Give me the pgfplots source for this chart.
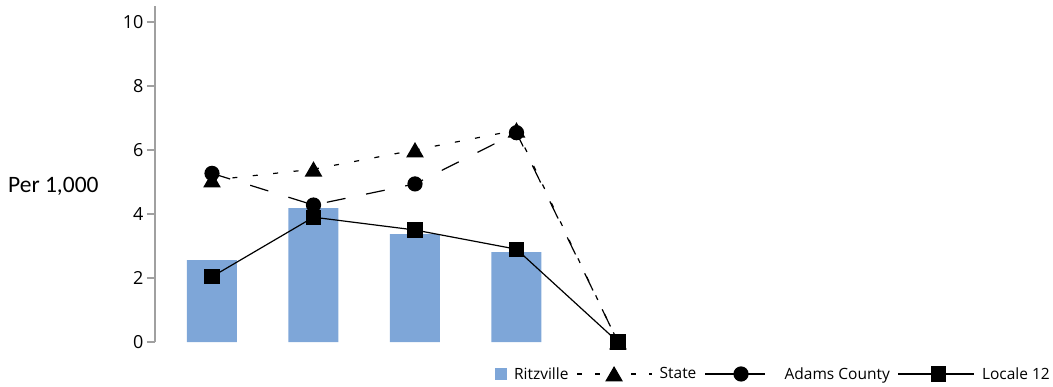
\documentclass[border=0pt]{standalone}
\usepackage{pgfplots}
\pgfplotsset{compat=1.18}
\usepackage{fontspec}
\setmainfont{Open Sans}
\newfontfamily\calibri{Carlito}
\definecolor{barblue}{RGB}{126,166,216}
\definecolor{axgray}{RGB}{160,160,160}
\begin{document}
\begin{tikzpicture}
\useasboundingbox (-155pt,-44pt) rectangle (898pt,342pt);
\begin{axis}[
  at={(0pt,0pt)}, anchor=south west,
  scale only axis, width=890pt, height=336pt,
  xmin=-0.5616, xmax=8.207, ymin=0, ymax=10.5,
  axis x line=none, axis y line*=left,
  y axis line style={draw=axgray, line width=1.2pt},
  ytick={0,2,4,6,8,10},
  ytick style={draw=axgray, line width=1.2pt},
  tick align=outside, major tick length=8pt,
  /pgf/number format/assume math mode=true,
  yticklabel style={font=\fontsize{18}{21}\selectfont, text=black},
  clip=false,
  ylabel={Per 1,000},
  ylabel style={rotate=-90, font=\calibri\fontsize{23.5}{28}\selectfont,
    at={(axis description cs:-0.1652,0.464)}, anchor=west, inner sep=0pt},
  legend columns=-1,
  legend style={draw=none, fill=none, at={(axis description cs:1.0079,-0.0952)},
    anchor=east, font=\fontsize{15.5}{18}\selectfont, inner sep=0pt,
    cells={anchor=west},
    /tikz/every odd column/.append style={column sep=5pt},
    /tikz/every even column/.append style={column sep=6pt}},
]
\addplot[ybar, bar width=50pt, bar shift=0pt, fill=barblue, draw=none,
  legend image code/.code={\fill[barblue] (0pt,-6pt) rectangle (12pt,6pt);}]
  coordinates {(0,2.56) (1,4.18) (2,3.37) (3,2.81)};
\addlegendentry{Ritzville}
\addplot[black, line width=1.2pt, dash pattern=on 5pt off 15.5pt,
  mark=triangle*, mark size=9pt, mark options={solid, yshift=-2.25pt},
  legend image code/.code={\draw[mark repeat=2,mark phase=2, dash pattern=on 5pt off 13pt] plot coordinates {(0pt,0pt) (37pt,0pt) (75pt,0pt)};}]
  coordinates {(0,5.06) (1,5.40) (2,6.00) (3,6.62) (4,0)};
\addlegendentry{State}
\addplot[black, line width=1.2pt, dash pattern=on 19pt off 21pt,
  mark=*, mark size=7pt, mark options={solid},
  legend image code/.code={\draw[solid,mark repeat=2,mark phase=2] plot coordinates {(0pt,0pt) (36pt,0pt) (60pt,0pt)}; \path (72pt,0pt);}]
  coordinates {(0,5.27) (1,4.28) (2,4.94) (3,6.54) (4,0)};
\addlegendentry{Adams County}
\addplot[black, line width=1.2pt, solid, mark=square*, mark size=7pt,
  legend image code/.code={\draw[mark repeat=2,mark phase=2] plot coordinates {(0pt,0pt) (40pt,0pt) (76pt,0pt)};}]
  coordinates {(0,2.04) (1,3.90) (2,3.50) (3,2.90) (4,0)};
\addlegendentry{Locale 12}
\end{axis}
\end{tikzpicture}
\end{document}
